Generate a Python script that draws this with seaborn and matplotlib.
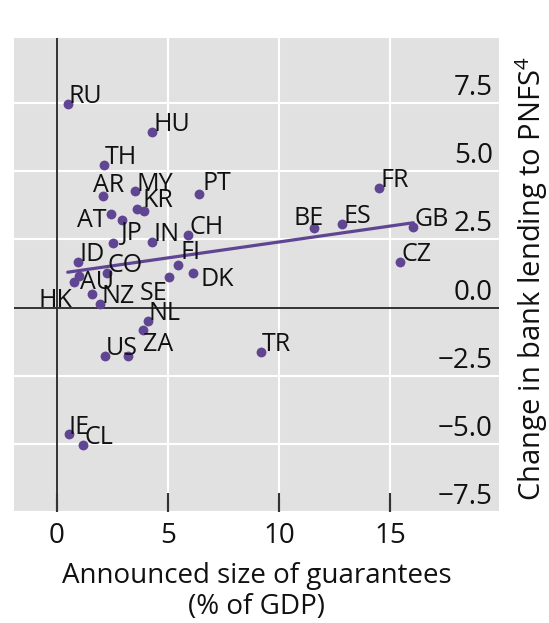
import numpy as np
import pandas as pd
import matplotlib
matplotlib.use("Agg")
import matplotlib.pyplot as plt
import seaborn as sns

# Country codes ("" = point shown without a label)
codes = ["RU", "HU", "TH", "AR", "MY", "KR", "", "PT", "AT", "", "JP", "IN",
         "CH", "ID", "CO", "AU", "", "HK", "NZ", "FI", "SE", "DK", "BE", "ES",
         "FR", "GB", "CZ", "NL", "", "ZA", "US", "TR", "IE", "CL"]
# Announced size of guarantees, % of GDP
guarantees = [0.48, 4.29, 2.12, 2.09, 3.51, 3.92, 3.62, 6.41, 2.42, 2.91, 2.54, 4.28,
              5.91, 0.96, 2.23, 0.77, 1.00, 1.56, 1.94, 5.46, 5.06, 6.14, 11.58, 12.85,
              14.52, 16.05, 15.45, 4.08, 3.87, 3.18, 2.16, 9.19, 0.55, 1.18]
# Change in bank lending to private non-financial sector
lending = [7.46, 6.43, 5.24, 4.11, 4.27, 3.53, 3.62, 4.18, 3.45, 3.23, 2.38, 2.39,
           2.68, 1.67, 1.28, 0.94, 1.16, 0.49, 0.12, 1.55, 1.13, 1.26, 2.93, 3.05,
           4.39, 2.95, 1.67, -0.49, -0.83, -1.77, -1.77, -1.62, -4.64, -5.06]

x_ticks = [0, 5, 10, 15]
y_ticks = [-7.5, -5.0, -2.5, 0.0, 2.5, 5.0, 7.5]

# label placement relative to its point: (dx px, dy px, horizontal alignment)
label_offsets = {
    "AR": (-10, 4, "left"), "AT": (-4, -13, "right"), "JP": (7, 3, "left"),
    "KR": (-2, 4, "left"), "PT": (3, 4, "left"), "HK": (-19, -13, "right"),
    "AU": (6, -7, "left"), "SE": (-2, -23, "right"), "DK": (7, -13, "left"),
    "ZA": (15, 5, "left"), "BE": (-21, 3, "left"), "FI": (2, 6, "left"),
    "MY": (2, 0, "left"), "IE": (-1, 0, "left"),
}

df = pd.DataFrame({"code": codes, "guarantees": guarantees, "lending": lending})

sns.set_theme(style="white", rc={"xtick.bottom": True, "xtick.direction": "in",
                                 "xtick.major.size": 14, "xtick.major.width": 1.5})
plt.rcParams["font.family"] = ["Open Sans", "DejaVu Sans"]
plt.rcParams["mathtext.fontset"] = "custom"
plt.rcParams["mathtext.rm"] = "Open Sans"

DPI = 100
PX = 72 / DPI
purple = "#5f4592"
grey_bg = "#e1e1e1"
dark = "#333333"
ink = "#111111"

fig = plt.figure(figsize=(5.49, 6.23), dpi=DPI)
ax = fig.add_axes([14 / 549, 111 / 623, 485 / 549, 474.5 / 623])
ax.set_facecolor(grey_bg)
for s in ax.spines.values():
    s.set_visible(False)

sns.regplot(data=df, x="guarantees", y="lending", ax=ax, ci=None,
            color=purple,
            scatter_kws={"s": 50, "linewidths": 0, "alpha": 1, "zorder": 3},
            line_kws={"linewidth": 2.3, "zorder": 2.5})

ax.set_xlim(-1.94, 19.91)
ax.set_ylim(-7.45, 9.91)
ax.set_xticks(x_ticks)
ax.set_yticks(y_ticks)
ax.set_yticklabels([])
ax.grid(True, color="white", linewidth=1.5, zorder=0.6)
ax.set_axisbelow(True)
ax.xaxis.set_tick_params(which="major", bottom=True, direction="in", length=14,
                         width=1.5, color=dark, pad=7, labelsize=20, labelcolor=ink)
ax.tick_params(axis="y", left=False, right=False, length=0)

# tick marks rising from the bottom edge of the panel
ax.vlines(x_ticks, 0, 14 / 474.5, transform=ax.get_xaxis_transform(),
          colors=dark, linewidth=1.5, zorder=1.6)

ax.axhline(0, color=dark, linewidth=1.4, zorder=1.5)
ax.axvline(0, color=dark, linewidth=1.4, zorder=1.5)

# y tick labels sit inside the panel, just above their gridlines
ytrans = matplotlib.transforms.blended_transform_factory(ax.transAxes, ax.transData)
for v in y_ticks:
    ax.text(1, v, f"{v:.1f}".replace("-", "\u2212"), transform=ytrans
            + matplotlib.transforms.ScaledTranslation(-6 / DPI, 8 / DPI, fig.dpi_scale_trans),
            ha="right", va="baseline", fontsize=20, color=ink, clip_on=False)

for c, gx, ly in zip(codes, guarantees, lending):
    if not c:
        continue
    dx, dy, ha = label_offsets.get(c, (1, 1, "left"))
    ax.annotate(c, (gx, ly), xytext=(dx * PX, dy * PX), textcoords="offset points",
                ha=ha, va="baseline", fontsize=18, color=ink, zorder=4)

ax.set_xlabel("Announced size of guarantees\n(% of GDP)", fontsize=20,
              linespacing=1.12, color=ink, labelpad=9)
ax.set_ylabel("Change in bank lending to PNFS$^{4}$", fontsize=21, color=ink)
ax.yaxis.set_label_position("right")
ax.yaxis.set_label_coords(1.03, 0.492)

fig.savefig("out.png", dpi=DPI)
